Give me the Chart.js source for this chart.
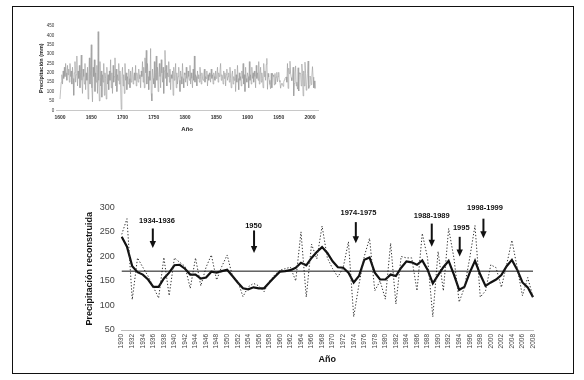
<!DOCTYPE html>
<html>
<head>
<meta charset="utf-8">
<script src="https://cdn.jsdelivr.net/npm/chart.js@4.4.1/dist/chart.umd.min.js"></script>
<style>
  html, body { margin: 0; padding: 0; background: #fff; }
  #page { position: relative; width: 584px; height: 380px; overflow: hidden; background: #fff; }
  #frame { position: absolute; left: 12px; top: 6px; width: 562px; height: 368px; border: 1.5px solid #111; box-sizing: border-box; }
  #topChart { position: absolute; left: 30px; top: 15px; }
  #mainChart { position: absolute; left: 60px; top: 195px; }
</style>
</head>
<body>
<div id="page">
  <div id="frame"></div>
  <canvas id="topChart" width="300" height="125"></canvas>
  <canvas id="mainChart" width="490" height="180"></canvas>
</div>
<script>
// ---- long reconstruction 1600-1929 (annual, mm) ----
const earlyFirstYear = 1600;
const earlyValues = [
  60, 110, 150, 190, 140, 210, 170, 230, 180, 250,
  200, 160, 240, 190, 220, 150, 250, 180, 210, 140,
  230, 170, 80, 200, 260, 150, 190, 290, 130, 210,
  170, 240, 120, 200, 295, 160, 90, 220, 180, 140,
  250, 110, 200, 160, 230, 60, 190, 280, 140, 210,
  350, 120, 45, 230, 180, 270, 100, 200, 150, 240,
  90, 420, 160, 50, 260, 130, 210, 70, 190, 150,
  250, 80, 200, 170, 60, 230, 140, 190, 110, 210,
  160, 270, 120, 200, 90, 240, 150, 180, 280, 130,
  220, 100, 190, 160, 250, 140, 210, 120, 5, 180,
  230, 130, 190, 90, 250, 160, 200, 110, 180, 140,
  220, 170, 120, 210, 150, 190, 230, 140, 180, 200,
  160, 240, 130, 200, 180, 150, 220, 170, 190, 120,
  210, 180, 260, 150, 230, 120, 280, 200, 320, 140,
  250, 180, 110, 210, 160, 330, 90, 50, 220, 170,
  140, 260, 120, 200, 290, 160, 230, 100, 190, 250,
  180, 120, 270, 200, 150, 230, 90, 210, 320, 170,
  240, 130, 200, 180, 260, 150, 220, 110, 190, 170,
  210, 80, 230, 160, 190, 250, 120, 200, 140, 180,
  230, 160, 100, 210, 180, 140, 250, 170, 120, 200,
  190, 150, 230, 170, 130, 210, 180, 160, 240, 140,
  200, 170, 120, 220, 160, 290, 150, 190, 180, 130,
  210, 170, 190, 150, 230, 180, 140, 200, 170, 160,
  190, 220, 150, 180, 170, 210, 130, 190, 160, 200,
  180, 150, 220, 170, 190, 140, 200, 180, 160, 210,
  170, 190, 230, 150, 200, 180, 210, 250, 160, 190,
  180, 140, 210, 170, 200, 130, 190, 220, 160, 180,
  200, 150, 230, 170, 120, 190, 210, 140, 180, 160,
  220, 100, 190, 150, 240, 170, 110, 200, 160, 180,
  130, 210, 170, 250, 140, 190, 100, 230, 170, 150,
  200, 180, 120, 260, 160, 190, 140, 230, 170, 200,
  150, 210, 180, 120, 240, 170, 200, 160, 260, 140,
  190, 230, 150, 200, 170, 120, 250, 180, 210, 160
];

// ---- 1930-2008: annual reconstruction (dotted) and smoothed curve (solid) ----
const firstYear = 1930;
const lastYear = 2008;
const annualValues = [
  245, 277, 112, 197, 178, 160, 138, 115, 198, 120,
  197, 188, 180, 135, 197, 140, 178, 203, 152, 180,
  203, 160, 150, 118, 138, 145, 140, 128, 150, 162,
  172, 175, 178, 150, 250, 117, 225, 195, 262, 197,
  175, 158, 177, 230, 77, 143, 200, 237, 130, 150,
  113, 227, 103, 200, 197, 197, 130, 247, 197, 77,
  210, 130, 257, 197, 107, 137, 197, 263, 117, 130,
  183, 177, 137, 183, 233, 177, 120, 157, 117
];
const smoothValues = [
  240, 220, 180, 168, 163, 153, 138, 138, 155, 167,
  182, 183, 175, 163, 163, 155, 157, 169, 167, 170,
  173, 160, 147, 135, 133, 137, 135, 135, 147, 158,
  169, 170, 172, 177, 187, 182, 197, 209, 219, 207,
  190, 178, 177, 167, 147, 160, 193, 198, 167, 153,
  153, 163, 160, 177, 190, 188, 183, 192, 173, 145,
  162, 178, 191, 163, 132, 138, 167, 191, 163, 140,
  147, 153, 162, 180, 193, 173, 147, 137, 117
];
const meanValue = 170;

// drought arrows
const arrowLabels = ["1934-1936", "1950", "1974-1975", "1988-1989", "1995", "1998-1999"];
const arrowYears = [1935.9, 1955.1, 1974.4, 1988.8, 1994.1, 1998.6];
const arrowTops = [257, 253, 270, 267, 240, 277];
const arrowBottoms = [217, 207, 227, 220, 200, 237];
const labelYears = [1936.7, 1955.0, 1974.9, 1988.8, 1994.4, 1998.9];
const labelValues = [272, 263, 289, 282, 258, 298];

const topXTicks = [1600, 1650, 1700, 1750, 1800, 1850, 1900, 1950, 2000];

const FONT = "'Liberation Sans', Arial, sans-serif";

const yearLabels = [];
for (let yr = firstYear; yr <= lastYear; yr++) yearLabels.push(String(yr));

// ---------------- upper chart ----------------
const fullSeries = earlyValues.concat(annualValues);
const topPoints = fullSeries.map((v, i) => ({ x: earlyFirstYear + i, y: v }));

new Chart(document.getElementById("topChart"), {
  type: "line",
  data: {
    datasets: [{
      data: topPoints,
      borderColor: "#999",
      borderWidth: 0.6,
      pointRadius: 0,
      tension: 0,
    }],
  },
  options: {
    responsive: false,
    animation: false,
    layout: { padding: { left: 7.4, right: 11.9, top: 11, bottom: 5.4 } },
    plugins: { legend: { display: false }, tooltip: { enabled: false } },
    scales: {
      x: {
        type: "linear",
        min: 1594,
        max: 2013,
        afterBuildTicks: (scale) => { scale.ticks = topXTicks.map((v) => ({ value: v })); },
        afterFit: (scale) => { scale.height = 24.3; },
        grid: { display: false, drawTicks: false },
        border: { display: true, color: "#c8c8c8", width: 1 },
        ticks: {
          autoSkip: false, maxRotation: 0, padding: 4, color: "#333",
          font: { family: FONT, size: 5, weight: "bold" },
          callback: (val) => String(val),
        },
        title: { display: true, text: "Año", color: "#222", padding: { top: 0, bottom: 2 }, font: { family: FONT, size: 6, weight: "bold" } },
      },
      y: {
        min: 0,
        max: 450,
        afterFit: (scale) => { scale.width = 18.85; },
        grid: { display: false, drawTicks: false },
        border: { display: false },
        ticks: { stepSize: 50, padding: 2, color: "#333", font: { family: FONT, size: 4.5 } },
        title: { display: true, text: "Precipitación (mm)", color: "#222", padding: { top: 1, bottom: 0 }, font: { family: FONT, size: 5.5, weight: "bold" } },
      },
    },
  },
});

// ---------------- main chart ----------------
function yearPixel(scale, yr) {
  const idx = yr - firstYear;
  const i0 = Math.floor(idx);
  const f = idx - i0;
  const a = scale.getPixelForValue(i0);
  const b = scale.getPixelForValue(i0 + 1);
  return a + (b - a) * f;
}

const droughtArrows = {
  id: "droughtArrows",
  afterDatasetsDraw(chart) {
    const { ctx, scales: { x, y } } = chart;
    ctx.save();
    ctx.fillStyle = "#111";
    ctx.strokeStyle = "#111";
    ctx.font = "bold 7.5px " + FONT;
    ctx.textAlign = "center";
    ctx.textBaseline = "middle";
    arrowLabels.forEach((text, i) => {
      ctx.fillText(text, yearPixel(x, labelYears[i]), y.getPixelForValue(labelValues[i]));
      const px = yearPixel(x, arrowYears[i]);
      const top = y.getPixelForValue(arrowTops[i]);
      const bottom = y.getPixelForValue(arrowBottoms[i]);
      ctx.lineWidth = 2;
      ctx.beginPath();
      ctx.moveTo(px, top);
      ctx.lineTo(px, bottom - 6);
      ctx.stroke();
      ctx.beginPath();
      ctx.moveTo(px - 3.2, bottom - 7);
      ctx.lineTo(px + 3.2, bottom - 7);
      ctx.lineTo(px, bottom);
      ctx.closePath();
      ctx.fill();
    });
    ctx.restore();
  },
};

new Chart(document.getElementById("mainChart"), {
  type: "line",
  data: {
    labels: yearLabels,
    datasets: [
      {
        label: "Media",
        data: [{ x: String(firstYear), y: meanValue }, { x: String(lastYear), y: meanValue }],
        borderColor: "#111",
        borderWidth: 1,
        pointRadius: 0,
      },
      {
        label: "Anual",
        data: annualValues,
        borderColor: "#333",
        borderWidth: 1,
        borderDash: [1.3, 1.9],
        pointRadius: 0,
        tension: 0,
      },
      {
        label: "Suavizada",
        data: smoothValues,
        borderColor: "#111",
        borderWidth: 2.2,
        pointRadius: 0,
        tension: 0,
      },
    ],
  },
  options: {
    responsive: false,
    animation: false,
    layout: { padding: { left: 20.6, right: 17, top: 10, bottom: 5.6 } },
    plugins: { legend: { display: false }, tooltip: { enabled: false } },
    scales: {
      x: {
        offset: false,
        afterFit: (scale) => { scale.height = 39.4; },
        grid: { display: false, drawTicks: false },
        border: { display: true, color: "#bdbdbd", width: 1 },
        ticks: {
          autoSkip: false,
          minRotation: 90,
          maxRotation: 90,
          padding: 4,
          color: "#444",
          font: { family: FONT, size: 6.5 },
          callback: (val, idx) => (idx % 2 === 0 ? yearLabels[idx] : ""),
        },
        title: { display: true, text: "Año", color: "#111", padding: { top: 0, bottom: 4 }, font: { family: FONT, size: 9, weight: "bold" } },
      },
      y: {
        min: 50,
        max: 300,
        afterFit: (scale) => { scale.width = 41.1; },
        grid: { display: false, drawTicks: false },
        border: { display: false },
        ticks: { stepSize: 50, padding: 7, color: "#444", font: { family: FONT, size: 9 } },
        title: { display: true, text: "Precipitación reconstruida", color: "#111", padding: { top: 4, bottom: 0 }, font: { family: FONT, size: 9, weight: "bold" } },
      },
    },
  },
  plugins: [droughtArrows],
});
</script>
</body>
</html>
